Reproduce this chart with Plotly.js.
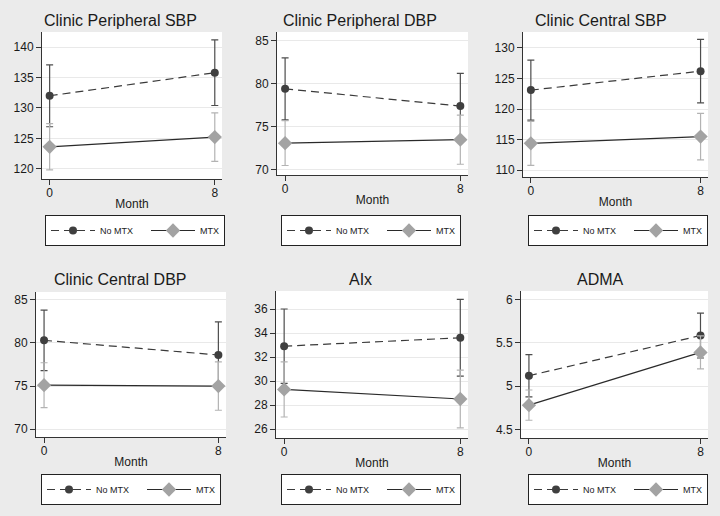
<!DOCTYPE html>
<html><head><meta charset="utf-8">
<script src="https://cdn.plot.ly/plotly-3.0.1.min.js"></script>
<style>html,body{margin:0;padding:0;background:#ebebeb}</style>
</head><body><div id="chart" style="width:720px;height:516px"></div>
<script>
const months = [0, 8];
const panelTitles = ["Clinic Peripheral SBP", "Clinic Peripheral DBP", "Clinic Central SBP",
                     "Clinic Central DBP", "AIx", "ADMA"];
const seriesNames = ["No MTX", "MTX"];
const noMtxMean = [[132.0, 135.8], [79.4, 77.4], [123.1, 126.2], [80.3, 78.6], [32.9, 33.6], [5.12, 5.585]];
const noMtxCI   = [[5.1, 5.4], [3.6, 3.8], [4.9, 5.2], [3.5, 3.85], [3.1, 3.2], [0.245, 0.26]];
const mtxMean   = [[123.6, 125.2], [73.1, 73.5], [114.4, 115.5], [75.1, 75.0], [29.3, 28.5], [4.78, 5.39]];
const mtxCI     = [[3.8, 4.0], [2.6, 2.85], [3.6, 3.8], [2.6, 2.8], [2.3, 2.4], [0.175, 0.19]];
const yTickVals = [[120, 125, 130, 135, 140], [70, 75, 80, 85], [110, 115, 120, 125, 130],
                   [70, 75, 80, 85], [26, 28, 30, 32, 34, 36], [4.5, 5, 5.5, 6]];
const xTickVals = [0, 8];
const xTickText = ["0", "8"];
const xAxisTitle = "Month";

// layout settings (pixels)
const W = 720, H = 516;
const yRanges = [[118.3, 142.5], [69.4, 86.0], [108.9, 132.6], [69.1, 85.9], [25.25, 37.5], [4.4, 6.1]];
const plotBoxes = [ // [left, right, top, bottom] in px
  [42, 222, 32, 179], [277, 468, 32, 175], [523, 708, 32, 177],
  [36, 226, 292, 437], [276, 468, 291, 438], [521, 708, 291, 438]
];
const legendPos = [[45, 215], [281, 215], [528, 215], [41, 474], [281, 474], [528, 474]];
const cellCenters = [[120, 21], [360, 21], [601, 21], [120, 279], [360, 279], [600, 279]];

const FONT = "Liberation Sans, Arial, sans-serif";
const traces = [];
const layout = {
  width: W, height: H,
  margin: {l: 0, r: 0, t: 0, b: 0},
  paper_bgcolor: "#ebebeb",
  plot_bgcolor: "#ffffff",
  font: {family: FONT, color: "#1a1a1a", size: 12},
  showlegend: true,
  annotations: []
};

for (let i = 0; i < 6; i++) {
  const n = i + 1;
  const xa = n === 1 ? "x" : "x" + n;
  const ya = n === 1 ? "y" : "y" + n;
  const lg = n === 1 ? "legend" : "legend" + n;
  traces.push({
    type: "scatter", mode: "lines+markers", x: months, y: noMtxMean[i],
    name: seriesNames[0], xaxis: xa, yaxis: ya, legend: lg, legendwidth: 41,
    line: {color: "#3a3a3a", width: 1.2, dash: "8px,5px"},
    marker: {symbol: "circle", size: 8, color: "#3f3f3f"},
    error_y: {type: "data", array: noMtxCI[i], visible: true, color: "#4d4d4d", thickness: 1.2, width: 3.5},
    hoverinfo: "skip"
  });
  traces.push({
    type: "scatter", mode: "lines+markers", x: months, y: mtxMean[i],
    name: seriesNames[1], xaxis: xa, yaxis: ya, legend: lg,
    line: {color: "#2a2a2a", width: 1.2},
    marker: {symbol: "diamond", size: 11, color: "#a3a3a3"},
    error_y: {type: "data", array: mtxCI[i], visible: true, color: "#b3b3b3", thickness: 1.2, width: 3.5},
    hoverinfo: "skip"
  });
  const b = plotBoxes[i];
  layout["xaxis" + (n === 1 ? "" : n)] = {
    domain: [b[0] / W, b[1] / W], anchor: ya, range: [-0.37, 8.35],
    tickvals: xTickVals, ticktext: xTickText, ticks: "outside", ticklen: 5, tickcolor: "#333",
    ticklabelstandoff: -2,
    showline: true, linecolor: "#333", linewidth: 1, showgrid: false, zeroline: false,
    tickfont: {size: 12, color: "#1a1a1a"},
    title: {text: xAxisTitle, font: {size: 12, color: "#1a1a1a"}, standoff: 0},
    fixedrange: true
  };
  layout["yaxis" + (n === 1 ? "" : n)] = {
    domain: [1 - b[3] / H, 1 - b[2] / H], anchor: xa, range: yRanges[i],
    tickvals: yTickVals[i], ticks: "outside", ticklen: 5, tickcolor: "#333",
    showline: true, linecolor: "#333", linewidth: 1, showgrid: true, gridcolor: "#e9e9e9",
    zeroline: false, tickfont: {size: 12, color: "#1a1a1a"}, fixedrange: true
  };
  const lp = legendPos[i];
  layout[lg] = {
    x: lp[0] / W, y: 1 - lp[1] / H, xanchor: "left", yanchor: "top",
    orientation: "h", bgcolor: "#ffffff", bordercolor: "#222", borderwidth: 1,
    font: {size: 9, color: "#1a1a1a"}, itemwidth: 44, traceorder: "normal"
  };
  const c = cellCenters[i];
  layout.annotations.push({
    text: panelTitles[i], xref: "paper", yref: "paper", x: c[0] / W, y: 1 - c[1] / H,
    xanchor: "center", yanchor: "middle", showarrow: false,
    font: {size: 16, color: "#1a1a1a"}
  });
}

Plotly.newPlot("chart", traces, layout, {staticPlot: true, displayModeBar: false});
</script></body></html>
